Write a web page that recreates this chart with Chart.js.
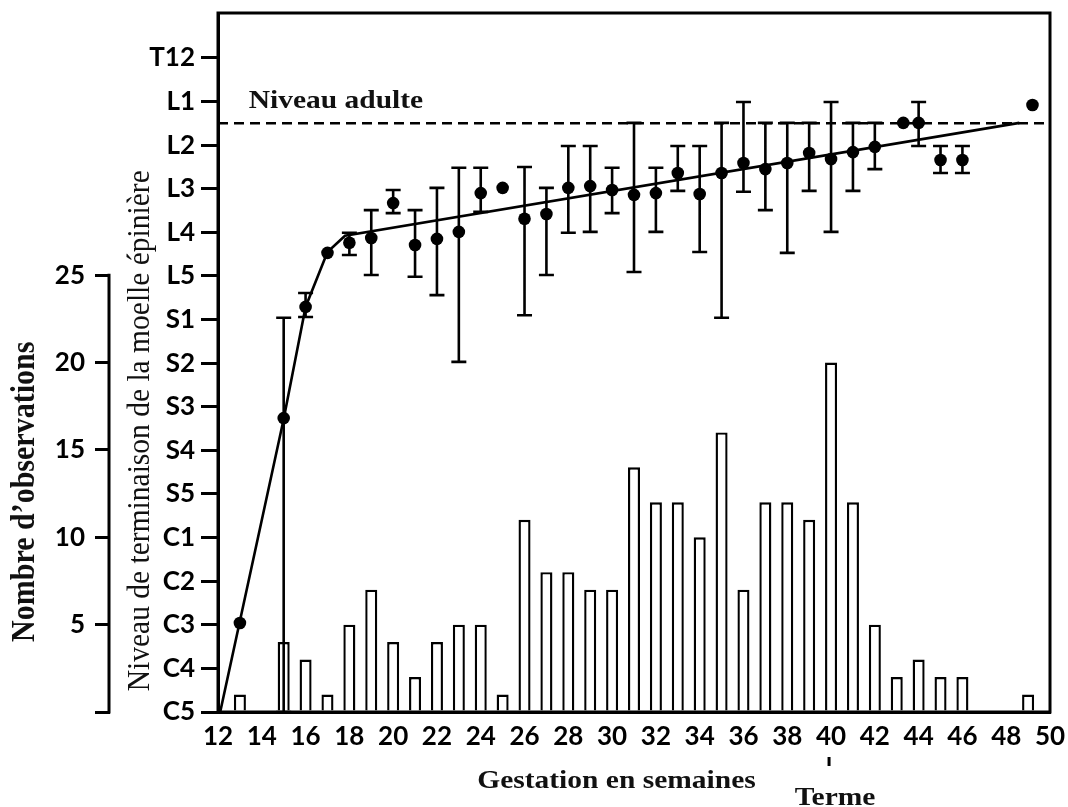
<!DOCTYPE html>
<html lang="fr">
<head>
<meta charset="utf-8">
<title>Niveau de terminaison de la moelle épinière</title>
<script src="https://cdn.jsdelivr.net/npm/chart.js@4.4.1/dist/chart.umd.min.js"></script>
<style>
    html, body { margin: 0; padding: 0; background: #fff; }
    #wrap { width: 1068px; height: 807px; }
</style>
</head>
<body>
<div id="wrap"><canvas id="moelleChart" width="1068" height="807"></canvas></div>
<script>
// Histogram: number of observations per week of gestation
const barWeeks  = [13, 15, 16, 17, 18, 19, 20, 21, 22, 23, 24, 25, 26, 27, 28, 29, 30, 31, 32, 33, 34, 35, 36, 37, 38, 39, 40, 41, 42, 43, 44, 45, 46, 49];
const barCounts = [1, 4, 3, 1, 5, 7, 4, 2, 4, 5, 5, 1, 11, 8, 8, 7, 7, 14, 12, 12, 10, 16, 7, 12, 12, 11, 20, 12, 5, 2, 3, 2, 2, 1];

// Mean level of the end of the spinal cord (0 = C5 ... 15 = T12), with error bars
const pointWeeks = [13, 15, 16, 17, 18, 19, 20, 21, 22, 23, 24, 25, 26, 27, 28, 29, 30, 31, 32, 33, 34, 35, 36, 37, 38, 39, 40, 41, 42, 43.3, 44, 45, 46, 49.2];
const meanLevels = [2.04, 6.74, 9.29, 10.53, 10.76, 10.87, 11.67, 10.71, 10.85, 11.01, 11.9, 12.02, 11.31, 11.42, 12.02, 12.06, 11.97, 11.86, 11.9, 12.36, 11.88, 12.36, 12.59, 12.45, 12.59, 12.82, 12.68, 12.84, 12.96, 13.51, 13.51, 12.66, 12.66, 13.92];
const errHigh = [null, 9.04, 9.61, null, 10.99, 11.51, 11.97, 11.51, 12.02, 12.48, 12.48, null, 12.5, 12.02, 12.98, 12.98, 12.48, 13.51, 12.48, 12.98, 12.98, 13.51, 13.99, 13.51, 13.51, 13.51, 13.99, 13.51, 13.51, null, 13.99, 12.98, 12.98, null];
const errLow  = [null, 0, 9.06, null, 10.48, 10.02, 11.44, 9.98, 9.56, 8.03, 11.47, null, 9.1, 10.02, 10.99, 11.01, 11.44, 10.09, 11.01, 11.95, 10.55, 9.04, 11.93, 11.51, 10.53, 11.95, 11.01, 11.95, 12.45, null, 12.98, 12.36, 12.36, null];

// Fitted growth curve
const fitWeeks  = [12.1, 15.0, 16.0, 17.0, 17.8, 48.6];
const fitLevels = [0, 6.72, 9.29, 10.55, 10.92, 13.51];

// Adult level (L1-L2 disc)
const adultLevel = 13.5;
const adultWeeks = [12, 50];

// Tick labels
const levelLabels = ['C5', 'C4', 'C3', 'C2', 'C1', 'S5', 'S4', 'S3', 'S2', 'S1', 'L5', 'L4', 'L3', 'L2', 'L1', 'T12'];
const countTicks = [0, 5, 10, 15, 20, 25];
const weekTicks = [12, 14, 16, 18, 20, 22, 24, 26, 28, 30, 32, 34, 36, 38, 40, 42, 44, 46, 48, 50];
const termWeek = 40;

const SERIF = '"Liberation Serif", "Times New Roman", serif';
const TICK_FONT = { family: 'Lato, "Open Sans", sans-serif', size: 26, weight: 'bold' };

document.addEventListener('DOMContentLoaded', function() {
    initChart();
});

/**
 * Draws the error bars of the mean levels
 */
const errorBarPlugin = {
    id: 'errorBars',
    afterDatasetsDraw(chart) {
        const ctx = chart.ctx;
        const x = chart.scales.x;
        const y = chart.scales.yLevel;
        ctx.save();
        ctx.strokeStyle = '#000';
        ctx.lineWidth = 2.6;
        ctx.beginPath();
        pointWeeks.forEach((w, i) => {
            if (errHigh[i] === null) return;
            const px = x.getPixelForValue(w);
            const top = y.getPixelForValue(errHigh[i]);
            const bottom = y.getPixelForValue(errLow[i]);
            ctx.moveTo(px, top);
            ctx.lineTo(px, bottom);
            ctx.moveTo(px - 7.5, top);
            ctx.lineTo(px + 7.5, top);
            ctx.moveTo(px - 7.5, bottom);
            ctx.lineTo(px + 7.5, bottom);
        });
        ctx.stroke();
        ctx.restore();
    }
};

/**
 * Frame around the plot, short count axis line and all free texts
 */
const decorPlugin = {
    id: 'decor',
    afterDraw(chart) {
        const ctx = chart.ctx;
        const area = chart.chartArea;
        const x = chart.scales.x;
        const yLevel = chart.scales.yLevel;
        const yCount = chart.scales.yCount;

        ctx.save();
        ctx.strokeStyle = '#000';
        ctx.lineWidth = 3;
        ctx.strokeRect(area.left, area.top, area.right - area.left, area.bottom - area.top);

        // count axis only runs from 0 to 25
        ctx.beginPath();
        ctx.moveTo(yCount.right - 1, yCount.getPixelForValue(countTicks[0]) + 1.5);
        ctx.lineTo(yCount.right - 1, yCount.getPixelForValue(countTicks[countTicks.length - 1]) - 1.5);
        ctx.stroke();

        // "Terme" marker under week 40
        const termX = x.getPixelForValue(termWeek);
        ctx.beginPath();
        ctx.moveTo(termX - 2, area.bottom + 45);
        ctx.lineTo(termX - 2, area.bottom + 54);
        ctx.stroke();

        ctx.fillStyle = '#111';
        ctx.textBaseline = 'alphabetic';

        drawStretched(ctx, 'Niveau adulte', x.getPixelForValue(13.4), yLevel.getPixelForValue(13.85),
            'bold 25px ' + SERIF, 1.18, 'left');
        drawStretched(ctx, 'Gestation en semaines', x.getPixelForValue(30.2), area.bottom + 76,
            'bold 25px ' + SERIF, 1.18, 'center');
        drawStretched(ctx, 'Terme', termX + 4, area.bottom + 93,
            'bold 25px ' + SERIF, 1.18, 'center');

        drawVertical(ctx, 'Nombre d’observations', yCount.left + 25, yCount.getPixelForValue(12.6),
            'bold 30px ' + SERIF, 1.15);
        drawVertical(ctx, 'Niveau de terminaison de la moelle épinière', yLevel.left + 31, yLevel.getPixelForValue(6.45),
            '29.5px ' + SERIF, 1.08);
        ctx.restore();
    }
};

function drawStretched(ctx, text, x, y, font, sx, align) {
    ctx.save();
    ctx.font = font;
    ctx.textAlign = align;
    ctx.translate(x, y);
    ctx.scale(sx, 1);
    ctx.fillText(text, 0, 0);
    ctx.restore();
}

function drawVertical(ctx, text, x, y, font, sx) {
    ctx.save();
    ctx.font = font;
    ctx.textAlign = 'center';
    ctx.textBaseline = 'middle';
    ctx.translate(x, y);
    ctx.scale(sx, 1);
    ctx.rotate(-Math.PI / 2);
    ctx.fillText(text, 0, 0);
    ctx.restore();
}

// Keep the plot box where the layout padding puts it (no room for label overflow)
function fitVertical(width) {
    return s => {
        s.width = width;
        s.paddingTop = 0;
        s.paddingBottom = 0;
    };
}

/**
 * Builds the combined histogram / growth chart
 */
function initChart() {
    const ctx = document.getElementById('moelleChart').getContext('2d');

    new Chart(ctx, {
        type: 'bar',
        data: {
            datasets: [
                {
                    type: 'scatter',
                    label: 'Niveau moyen',
                    data: pointWeeks.map((w, i) => ({ x: w, y: meanLevels[i] })),
                    yAxisID: 'yLevel',
                    pointRadius: 6.3,
                    pointBackgroundColor: '#000',
                    pointBorderColor: '#000',
                    pointBorderWidth: 0,
                    order: 0
                },
                {
                    type: 'line',
                    label: 'Courbe',
                    data: fitWeeks.map((w, i) => ({ x: w, y: fitLevels[i] })),
                    yAxisID: 'yLevel',
                    borderColor: '#000',
                    borderWidth: 2.6,
                    pointRadius: 0,
                    tension: 0,
                    order: 1
                },
                {
                    type: 'line',
                    label: 'Niveau adulte',
                    data: adultWeeks.map(w => ({ x: w, y: adultLevel })),
                    yAxisID: 'yLevel',
                    borderColor: '#000',
                    borderWidth: 2.6,
                    borderDash: [10, 6],
                    pointRadius: 0,
                    order: 2
                },
                {
                    type: 'bar',
                    label: 'Observations',
                    data: barWeeks.map((w, i) => ({ x: w, y: barCounts[i] })),
                    yAxisID: 'yCount',
                    backgroundColor: '#fff',
                    borderColor: '#000',
                    borderWidth: 2.4,
                    barPercentage: 0.55,
                    categoryPercentage: 1.0,
                    order: 3
                }
            ]
        },
        options: {
            responsive: false,
            animation: false,
            events: [],
            layout: { padding: { top: 13, right: 18, bottom: 0, left: 0 } },
            plugins: {
                legend: { display: false },
                tooltip: { enabled: false }
            },
            scales: {
                x: {
                    type: 'linear',
                    min: 12,
                    max: 50,
                    offset: false,
                    afterBuildTicks: s => { s.ticks = weekTicks.map(v => ({ value: v })); },
                    afterFit: s => {
                        s.height = 95;
                        s.paddingLeft = 0;
                        s.paddingRight = 0;
                    },
                    ticks: { color: '#000', font: TICK_FONT, padding: 9, autoSkip: false, maxRotation: 0 },
                    grid: { display: false, drawTicks: false, offset: false },
                    border: { display: true, color: '#000', width: 3 }
                },
                yLevel: {
                    type: 'linear',
                    position: 'left',
                    weight: 0,
                    min: 0,
                    max: 16.03,
                    afterBuildTicks: s => { s.ticks = levelLabels.map((_, i) => ({ value: i })); },
                    afterFit: fitVertical(108),
                    ticks: {
                        color: '#000',
                        font: TICK_FONT,
                        padding: 6,
                        autoSkip: false,
                        callback: v => levelLabels[v] ?? ''
                    },
                    grid: { drawOnChartArea: false, drawTicks: true, tickLength: 17, lineWidth: 3, color: '#000' },
                    border: { display: true, color: '#000', width: 3 }
                },
                yCount: {
                    type: 'linear',
                    position: 'left',
                    weight: 1,
                    min: 0,
                    max: 40,
                    afterBuildTicks: s => { s.ticks = countTicks.map(v => ({ value: v })); },
                    afterFit: fitVertical(110),
                    ticks: {
                        color: '#000',
                        font: TICK_FONT,
                        padding: 10,
                        autoSkip: false,
                        callback: v => (v === 0 ? '' : String(v))
                    },
                    grid: { drawOnChartArea: false, drawTicks: true, tickLength: 15, lineWidth: 3, color: '#000' },
                    border: { display: false }
                }
            }
        },
        plugins: [errorBarPlugin, decorPlugin]
    });
}
</script>
</body>
</html>
